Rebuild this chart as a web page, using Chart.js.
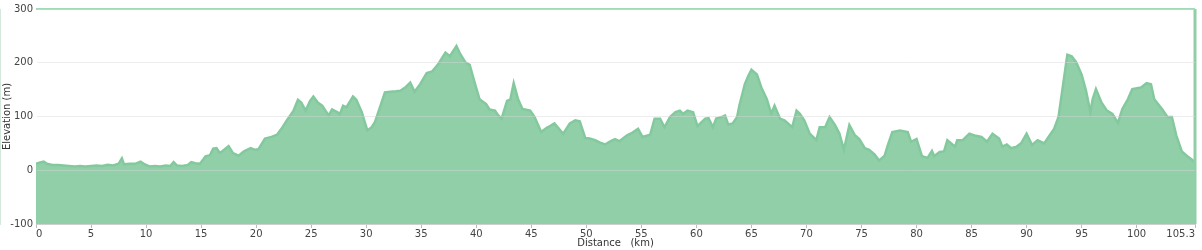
<!doctype html>
<html>
<head>
    <title>Elevation profile</title>
    <script src="https://cdn.jsdelivr.net/npm/chart.js@4/dist/chart.umd.min.js"></script>
    <style>
        html, body { margin: 0; padding: 0; background: #fff; }
        #profile { display: block; }
    </style>
</head>
<body>
<canvas id="profile" width="1202" height="250"></canvas>
<script>
    // distance along the route (km) and elevation (m)
    var distanceKm = [
        0, 0.3, 0.7, 1.0, 1.5, 2.0, 2.5, 3.0, 3.5, 4.0, 4.5, 5.0, 5.5, 6.0, 6.5, 7.0, 7.5, 7.8, 8.0, 8.5,
        9.0, 9.5, 9.8, 10.3, 10.8, 11.3, 11.8, 12.2, 12.5, 12.8, 13.3, 13.8, 14.1, 14.5, 14.9, 15.4, 15.8, 16.1, 16.4, 16.7,
        17.1, 17.5, 17.9, 18.4, 18.9, 19.5, 19.9, 20.2, 20.8, 21.4, 21.9, 22.4, 22.8, 23.4, 23.8, 24.1, 24.5, 24.9, 25.2, 25.6,
        26.0, 26.3, 26.6, 26.9, 27.4, 27.6, 27.9, 28.2, 28.8, 29.1, 29.6, 30.1, 30.5, 30.8, 31.3, 31.7, 32.2, 32.7, 33.1, 33.6,
        34.0, 34.4, 34.9, 35.5, 36.0, 36.5, 37.2, 37.6, 38.2, 38.5, 39.0, 39.4, 39.9, 40.3, 40.9, 41.2, 41.7, 42.0, 42.3, 42.8,
        43.1, 43.4, 43.8, 44.2, 44.9, 45.3, 45.9, 46.4, 46.7, 47.1, 47.9, 48.5, 49.0, 49.4, 49.9, 50.3, 50.8, 51.2, 51.7, 52.1,
        52.6, 53.0, 53.7, 54.2, 54.7, 55.1, 55.8, 56.2, 56.7, 57.1, 57.6, 58.1, 58.5, 58.8, 59.2, 59.7, 60.1, 60.8, 61.1, 61.5,
        61.8, 62.3, 62.6, 62.9, 63.3, 63.7, 63.9, 64.4, 64.7, 65.0, 65.5, 65.9, 66.4, 66.8, 67.1, 67.6, 68.0, 68.7, 69.1, 69.4,
        69.8, 70.3, 70.9, 71.2, 71.7, 72.1, 72.6, 73.0, 73.4, 73.9, 74.4, 74.8, 75.3, 75.7, 76.2, 76.6, 77.1, 77.4, 77.8, 78.5,
        79.2, 79.5, 80.0, 80.5, 81.0, 81.4, 81.6, 82.1, 82.5, 82.8, 83.5, 83.7, 84.2, 84.8, 85.4, 85.9, 86.4, 86.9, 87.5, 87.8,
        88.2, 88.6, 89.1, 89.5, 90.0, 90.5, 91.0, 91.6, 92.1, 92.5, 92.9, 93.3, 93.7, 94.1, 94.5, 95.0, 95.4, 95.8, 96.0, 96.3,
        96.8, 97.3, 97.8, 98.3, 98.7, 99.2, 99.6, 100.4, 100.9, 101.3, 101.6, 102.3, 102.8, 103.2, 103.6, 104.1, 104.6, 105.0, 105.3
    ];
    var elevationM = [
        12, 14, 16, 12, 10, 10, 9, 8, 7, 8, 7, 8, 9, 8, 10, 9, 12, 22, 11, 12,
        12, 16, 12, 7, 8, 7, 9, 8, 15, 9, 8, 10, 15, 13, 12, 26, 28, 40, 41, 32,
        38, 45, 32, 27, 35, 41, 38, 39, 59, 62, 66, 80, 93, 111, 131, 126, 111, 129, 137, 126,
        120, 111, 102, 113, 108, 104, 120, 117, 137, 131, 108, 74, 80, 90, 120, 145, 146, 147, 148, 155,
        163, 146, 160, 181, 184, 196, 219, 212, 231, 218, 201, 196, 160, 132, 123, 113, 111, 102, 96, 129,
        132, 162, 132, 114, 111, 99, 71, 79, 82, 87, 68, 87, 93, 91, 60, 59, 56, 52, 48, 53,
        58, 54, 65, 70, 77, 62, 66, 96, 96, 80, 99, 108, 111, 105, 111, 108, 82, 96, 97, 80,
        96, 99, 102, 85, 87, 99, 120, 160, 175, 187, 178, 154, 132, 105, 120, 96, 93, 80, 111, 105,
        93, 68, 56, 80, 80, 99, 84, 68, 38, 84, 65, 58, 41, 38, 29, 18, 27, 47, 71, 74,
        71, 53, 58, 26, 23, 36, 26, 34, 35, 56, 44, 56, 56, 68, 64, 62, 53, 68, 59, 44,
        48, 41, 44, 50, 68, 47, 56, 50, 65, 77, 99, 157, 215, 212, 201, 178, 148, 108, 132, 151,
        126, 111, 105, 88, 114, 132, 151, 154, 162, 160, 132, 114, 99, 99, 65, 35, 26, 20, 15
    ];
    var distanceTicks = [0, 5, 10, 15, 20, 25, 30, 35, 40, 45, 50, 55, 60, 65, 70, 75, 80, 85, 90, 95, 100, 105.3];
    var elevationTicks = [-100, 0, 100, 200, 300];

    var points = distanceKm.map(function(d, i) {
        return {x: d, y: elevationM[i]};
    });

    var tickFont = {family: 'DejaVu Sans', size: 10};

    // green frame along the top and the right end of the plot
    var plotFrame = {
        id: 'plotFrame',
        afterDatasetsDraw: function(chart) {
            var a = chart.chartArea;
            var ctx = chart.ctx;
            ctx.save();
            ctx.strokeStyle = 'rgb(160, 218, 182)';
            ctx.lineWidth = 2;
            ctx.beginPath();
            ctx.moveTo(a.left, a.top);
            ctx.lineTo(a.right, a.top);
            ctx.stroke();
            ctx.strokeStyle = 'rgb(143, 207, 167)';
            ctx.lineWidth = 3;
            ctx.beginPath();
            ctx.moveTo(a.right, a.top);
            ctx.lineTo(a.right, a.bottom);
            ctx.stroke();
            ctx.restore();
        }
    };

    var config = {
        type: 'line',
        data: {
            datasets: [{
                label: 'Elevation',
                data: points,
                borderColor: 'rgb(132, 201, 158)',
                backgroundColor: 'rgb(145, 207, 168)',
                borderWidth: 2.5,
                pointRadius: 0,
                tension: 0,
                fill: 'start'
            }]
        },
        options: {
            responsive: false,
            animation: false,
            layout: {
                padding: {top: 6, right: 7, left: 0, bottom: 0}
            },
            plugins: {
                legend: {display: false},
                tooltip: {enabled: false}
            },
            scales: {
                x: {
                    type: 'linear',
                    min: 0,
                    max: 105.3,
                    afterBuildTicks: function(axis) {
                        axis.ticks = distanceTicks.map(function(v) { return {value: v}; });
                    },
                    afterFit: function(axis) { axis.height = 26; },
                    ticks: {
                        font: tickFont,
                        color: '#444',
                        align: 'inner',
                        maxRotation: 0,
                        autoSkip: false,
                        padding: 0,
                        callback: function(v) { return String(v); }
                    },
                    grid: {
                        drawOnChartArea: false,
                        drawTicks: true,
                        tickLength: 4,
                        color: '#bbb'
                    },
                    border: {color: '#c8c8c8', width: 1},
                    title: {
                        display: true,
                        text: 'Distance   (km)',
                        font: tickFont,
                        color: '#333',
                        padding: {top: 0, bottom: 1}
                    }
                },
                y: {
                    min: -100,
                    max: 300,
                    afterBuildTicks: function(axis) {
                        axis.ticks = elevationTicks.map(function(v) { return {value: v}; });
                    },
                    afterFit: function(axis) { axis.width = 36; },
                    ticks: {
                        font: tickFont,
                        color: '#444',
                        align: 'inner',
                        padding: 3
                    },
                    grid: {
                        drawTicks: false,
                        color: 'rgba(215, 215, 215, 0.45)',
                        z: 1
                    },
                    border: {color: '#a9d4b8', width: 1},
                    title: {
                        display: true,
                        text: 'Elevation (m)',
                        font: tickFont,
                        color: '#333',
                        padding: {top: 1, bottom: 0}
                    }
                }
            }
        },
        plugins: [plotFrame]
    };

    window.onload = function() {
        var ctx = document.getElementById('profile').getContext('2d');
        window.profileChart = new Chart(ctx, config);
    };
</script>
</body>
</html>
